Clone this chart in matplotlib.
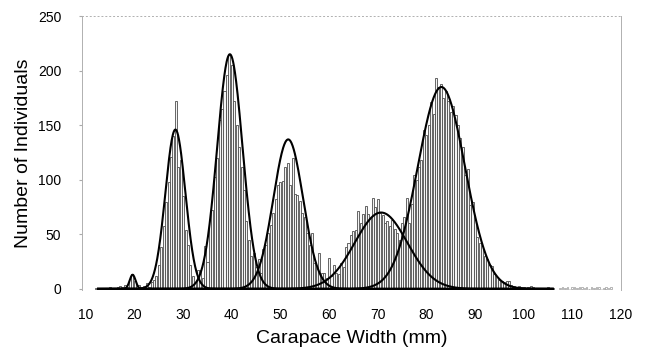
# Libraries
import numpy as np
import matplotlib
matplotlib.use('Agg')
import matplotlib.pyplot as plt

# bar counts, 0.5 mm bins starting at 12.0 mm
bin_start = 12.0
bin_width = 0.5
counts = [
    1, 0, 1, 0, 1, 1, 2, 1, 1, 2, 3, 2, 4, 2,          # 12 - 18.5
    9, 14, 7, 3, 4, 2, 3, 5, 2, 6,                     # 19 - 23.5
    8, 12, 22, 38, 58, 80, 98, 121, 140, 172,          # 24 - 28.5
    112, 118, 85, 54, 40, 22, 12, 6, 17, 17,           # 29 - 33.5
    10, 39, 25, 63, 72, 103, 120, 155, 165, 181,       # 34 - 38.5
    196, 214, 205, 172, 150, 130, 112, 91, 62, 45,     # 39 - 43.5
    30, 33, 20, 27, 15, 37, 40, 51, 59, 70,            # 44 - 48.5
    82, 95, 98, 99, 112, 115, 95, 120, 87, 86,         # 49 - 53.5
    81, 70, 66, 51, 40, 51, 24, 20, 33, 15,            # 54 - 58.5
    15, 10, 28, 12, 22, 15, 14, 24, 20, 38,            # 59 - 63.5
    42, 49, 53, 54, 71, 60, 69, 76, 69, 65,            # 64 - 68.5
    83, 75, 82, 70, 68, 60, 62, 58, 63, 55,            # 69 - 73.5
    51, 45, 60, 66, 83, 60, 78, 104, 100, 112,         # 74 - 78.5
    118, 146, 141, 150, 171, 160, 193, 185, 188, 175,  # 79 - 83.5
    181, 172, 162, 168, 159, 150, 138, 130, 104, 110,  # 84 - 88.5
    77, 80, 63, 48, 42, 39, 30, 27, 22, 21,            # 89 - 93.5
    14, 11, 8, 7, 6, 7, 7, 4, 3, 2,                    # 94 - 98.5
    3, 2, 2, 1, 2, 3, 2, 1, 1, 1,                      # 99 - 103.5
    1, 1, 2, 1, 1,                                     # 104 - 106
]

# sparse tail past 107 mm
tail_start = 107.5
tail_counts = [1, 2, 1, 2, 0, 2, 2, 1, 2, 2, 1, 2, 0, 2, 1, 2, 2, 0, 1, 2, 1, 2]

# fitted normal components: mean, sd, peak height
comp_means = [19.6, 28.4, 39.6, 51.6, 70.7, 83.1]
comp_sds = [0.6, 2.05, 2.6, 3.05, 5.4, 4.85]
comp_peaks = [13, 146, 215, 137, 70, 185]
curve_range = (12.5, 106.0)

x_ticks = [10, 20, 30, 40, 50, 60, 70, 80, 90, 100, 110, 120]
y_ticks = [0, 50, 100, 150, 200, 250]


def main():
    plt.rcParams['font.family'] = ['Liberation Sans', 'DejaVu Sans']

    fig = plt.figure(figsize=(6.46, 3.49), dpi=100)
    ax = fig.add_axes([0.127, 0.169, 0.834, 0.785])

    # histogram bars
    x_bins = bin_start + bin_width * np.arange(len(counts))
    ax.bar(x_bins, counts, width=0.42, facecolor='#f4f4f4',
           edgecolor='#4d4d4d', linewidth=0.6, zorder=2)

    x_tail = tail_start + bin_width * np.arange(len(tail_counts))
    ax.bar(x_tail, tail_counts, width=0.3, facecolor='white',
           edgecolor='#999999', linewidth=0.5, zorder=2)

    # mixture components
    xs = np.linspace(curve_range[0], curve_range[1], 1200)
    for mu, sd, h in zip(comp_means, comp_sds, comp_peaks):
        ys = h * np.exp(-0.5 * ((xs - mu) / sd) ** 2)
        ax.plot(xs, ys, color='black', linewidth=1.5, zorder=3)

    ax.set_xlim(9.2, 120)
    ax.set_ylim(-1, 250)
    ax.set_xticks(x_ticks)
    ax.set_yticks(y_ticks)
    ax.tick_params(axis='both', labelsize=10, length=2, color='#aaaaaa',
                   pad=13)
    ax.tick_params(axis='x', length=0, pad=13)

    # faint frame like the scanned original
    for side in ['left', 'top', 'right']:
        ax.spines[side].set_color('#b0b0b0')
        ax.spines[side].set_linewidth(0.7)
    ax.spines['top'].set_linestyle((0, (1, 3)))
    ax.spines['right'].set_linestyle((0, (3, 1)))
    ax.spines['bottom'].set_visible(False)

    ax.set_xlabel('Carapace Width (mm)', fontsize=14, labelpad=6)
    ax.set_ylabel('Number of Individuals', fontsize=14, labelpad=4)

    fig.savefig('out.png', dpi=100)


if __name__ == "__main__":
    main()
